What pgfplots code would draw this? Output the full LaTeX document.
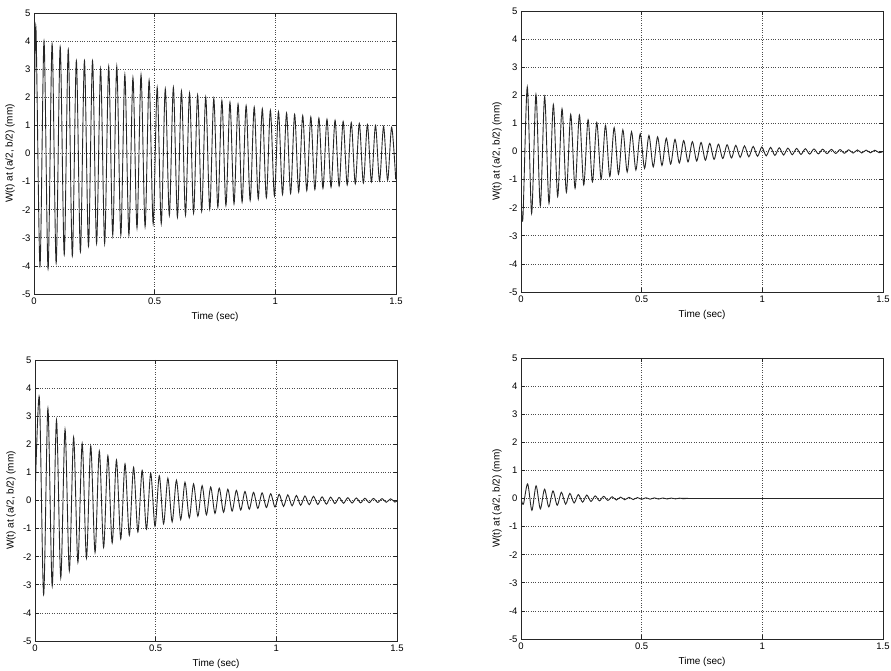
\documentclass[border=0pt]{standalone}
\usepackage{fontspec}
\setmainfont{Liberation Sans}
\usepackage{pgfplots}
\pgfplotsset{compat=1.18}
\pgfplotsset{
  matstyle/.style={
    scale only axis, width=362pt, height=281pt,
    xmin=0, xmax=1.5, ymin=-5, ymax=5,
    xtick={0,0.5,1,1.5}, xticklabels={0,0.5,1,1.5},
    ytick={-5,-4,-3,-2,-1,0,1,2,3,4,5},
    yticklabels={-5,-4,-3,-2,-1,0,1,2,3,4,5},
    grid=major,
    major grid style={dotted, black!70, line width=0.6pt},
    tick align=inside, major tick length=4pt,
    axis line style={line width=0.6pt, black!85},
    tick style={line width=0.6pt, black!85},
    ticklabel style={font=\fontsize{9.5}{10}\selectfont},
    label style={font=\fontsize{10}{12}\selectfont},
    xlabel={Time (sec)},
    ylabel={W(t) at (a/2, b/2) (mm)},
    xlabel style={at={([yshift=-23pt]axis description cs:0.5,0)}, anchor=center},
    ylabel style={at={([xshift=-24pt]axis description cs:0,0.5)}, anchor=center},
  },
  sig/.style={black!85, line width=0.9pt, smooth, tension=0.5},
}
\begin{document}
\begin{tikzpicture}[x=1pt,y=1pt]
\path[use as bounding box] (0,0) rectangle (891,671);

% top-left
\begin{axis}[matstyle, at={(34pt,377pt)}, anchor=south west]
\addplot[sig] coordinates {
(0,0) (0.0080,4.5) (0.0248,-4.0) (0.0415,4.0) (0.0583,-4.1) (0.0750,3.9) (0.0918,-3.9)
(0.1085,3.8) (0.1253,-3.6) (0.1420,3.7) (0.1588,-3.65) (0.1755,3.3) (0.1923,-3.5)
(0.2090,3.3) (0.2258,-3.3) (0.2425,3.3) (0.2593,-3.2) (0.2760,3.0) (0.2928,-3.2)
(0.3095,3.1) (0.3263,-2.9) (0.3430,3.1) (0.3598,-2.9) (0.3765,2.8) (0.3933,-2.9)
(0.4100,2.7) (0.4268,-2.65) (0.4435,2.8) (0.4603,-2.6) (0.4770,2.6) (0.4938,-2.5)
(0.5105,2.35) (0.5273,-2.5) (0.5440,2.3) (0.5608,-2.2) (0.5775,2.35) (0.5943,-2.26)
(0.6110,2.22) (0.6278,-2.19) (0.6445,2.15) (0.6613,-2.12) (0.6780,2.08) (0.6948,-2.05)
(0.7115,2.01) (0.7283,-1.98) (0.7450,1.95) (0.7618,-1.91) (0.7785,1.88) (0.7953,-1.85)
(0.8120,1.82) (0.8288,-1.79) (0.8455,1.76) (0.8623,-1.73) (0.8790,1.70) (0.8958,-1.67)
(0.9125,1.65) (0.9293,-1.62) (0.9460,1.59) (0.9628,-1.57) (0.9795,1.54) (0.9963,-1.51)
(1.0130,1.49) (1.0298,-1.46) (1.0465,1.44) (1.0633,-1.42) (1.0800,1.39) (1.0968,-1.37)
(1.1135,1.35) (1.1303,-1.32) (1.1470,1.30) (1.1638,-1.28) (1.1805,1.26) (1.1973,-1.24)
(1.2140,1.22) (1.2308,-1.20) (1.2475,1.18) (1.2643,-1.16) (1.2810,1.14) (1.2978,-1.12)
(1.3145,1.10) (1.3313,-1.08) (1.3480,1.07) (1.3648,-1.05) (1.3815,1.03) (1.3983,-1.01)
(1.4150,1.00) (1.4318,-0.98) (1.4485,0.96) (1.4653,-0.95) (1.4820,0.93) (1.4988,-0.92)
};
\end{axis}

% top-right
\begin{axis}[matstyle, at={(521pt,379pt)}, anchor=south west]
\addplot[sig] coordinates {
(0,-1.6) (0.008,-2.35) (0.026,2.30) (0.044,-2.20) (0.062,2.03) (0.080,-1.93) (0.098,1.95)
(0.116,-1.85) (0.134,1.67) (0.152,-1.60) (0.170,1.52) (0.188,-1.45) (0.206,1.32)
(0.224,-1.31) (0.242,1.30) (0.260,-1.19) (0.278,1.13) (0.296,-1.08) (0.314,1.03)
(0.332,-0.98) (0.350,0.93) (0.368,-0.89) (0.386,0.85) (0.404,-0.81) (0.422,0.77)
(0.440,-0.73) (0.458,0.70) (0.476,-0.66) (0.494,0.63) (0.512,-0.60) (0.530,0.57)
(0.548,-0.55) (0.566,0.52) (0.584,-0.50) (0.602,0.47) (0.620,-0.45) (0.638,0.43)
(0.656,-0.41) (0.674,0.39) (0.692,-0.37) (0.710,0.35) (0.728,-0.34) (0.746,0.32)
(0.764,-0.31) (0.782,0.29) (0.800,-0.28) (0.818,0.26) (0.836,-0.25) (0.854,0.24)
(0.872,-0.23) (0.890,0.22) (0.908,-0.21) (0.926,0.20) (0.944,-0.19) (0.962,0.18)
(0.980,-0.17) (0.998,0.16) (1.016,-0.155) (1.034,0.147) (1.052,-0.14) (1.070,0.134)
(1.088,-0.127) (1.106,0.121) (1.124,-0.115) (1.142,0.11) (1.160,-0.105) (1.178,0.10)
(1.196,-0.095) (1.214,0.09) (1.232,-0.086) (1.250,0.082) (1.268,-0.078) (1.286,0.075)
(1.304,-0.071) (1.322,0.068) (1.340,-0.064) (1.358,0.061) (1.376,-0.058) (1.394,0.056)
(1.412,-0.053) (1.430,0.05) (1.448,-0.048) (1.466,0.046) (1.484,-0.044) (1.5,0.0)
};
\end{axis}

% bottom-left
\begin{axis}[matstyle, at={(35pt,30pt)}, anchor=south west]
\addplot[sig] coordinates {
(0,0) (0.0180,3.67) (0.0358,-3.35) (0.0535,3.28) (0.0713,-3.05) (0.0890,2.86) (0.1068,-2.75)
(0.1245,2.53) (0.1423,-2.5) (0.1600,2.25) (0.1778,-2.2) (0.1955,2.03) (0.2133,-2.05)
(0.2310,1.94) (0.2488,-1.85) (0.2665,1.76) (0.2843,-1.67) (0.3020,1.59) (0.3198,-1.51)
(0.3375,1.44) (0.3553,-1.37) (0.3730,1.30) (0.3908,-1.24) (0.4085,1.18) (0.4263,-1.12)
(0.4440,1.07) (0.4618,-1.02) (0.4795,0.97) (0.4973,-0.92) (0.5150,0.88) (0.5328,-0.83)
(0.5505,0.79) (0.5683,-0.76) (0.5860,0.72) (0.6038,-0.68) (0.6215,0.65) (0.6393,-0.62)
(0.6570,0.59) (0.6748,-0.56) (0.6925,0.53) (0.7103,-0.51) (0.7280,0.48) (0.7458,-0.46)
(0.7635,0.44) (0.7813,-0.42) (0.7990,0.40) (0.8168,-0.38) (0.8345,0.36) (0.8523,-0.34)
(0.8700,0.32) (0.8878,-0.31) (0.9055,0.29) (0.9233,-0.28) (0.9410,0.27) (0.9588,-0.25)
(0.9765,0.24) (0.9943,-0.23) (1.0120,0.22) (1.0298,-0.21) (1.0475,0.20) (1.0653,-0.19)
(1.0830,0.18) (1.1008,-0.17) (1.1185,0.16) (1.1363,-0.15) (1.1540,0.15) (1.1718,-0.14)
(1.1895,0.13) (1.2073,-0.13) (1.2250,0.12) (1.2428,-0.11) (1.2605,0.11) (1.2783,-0.10)
(1.2960,0.10) (1.3138,-0.09) (1.3315,0.09) (1.3493,-0.085) (1.3670,0.08) (1.3848,-0.077)
(1.4025,0.073) (1.4203,-0.07) (1.4380,0.066) (1.4558,-0.063) (1.4735,0.06) (1.4913,-0.057)
(1.5,0.0)
};
\end{axis}

% bottom-right
\begin{axis}[matstyle, at={(521pt,32pt)}, anchor=south west]
\addplot[sig] coordinates {
(0,0) (0.0100,-0.20) (0.0275,0.52) (0.0450,-0.42) (0.0625,0.45) (0.0800,-0.37) (0.0975,0.33)
(0.1150,-0.30) (0.1325,0.27) (0.1500,-0.24) (0.1675,0.22) (0.1850,-0.20) (0.2025,0.18)
(0.2200,-0.16) (0.2375,0.14) (0.2550,-0.13) (0.2725,0.12) (0.2900,-0.105) (0.3075,0.094)
(0.3250,-0.085) (0.3425,0.077) (0.3600,-0.069) (0.3775,0.062) (0.3950,-0.056) (0.4125,0.050)
(0.4300,-0.045) (0.4475,0.041) (0.4650,-0.037) (0.4825,0.033) (0.5000,-0.030) (0.5175,0.027)
(0.5350,-0.024) (0.5525,0.022) (0.5700,-0.020) (0.5875,0.018) (0.6050,-0.016) (0.6225,0.015)
(0.6400,-0.013) (0.6575,0.012) (0.6750,-0.011) (0.6925,0.010) (0.72,0) (1.5,0)
};
\end{axis}
\end{tikzpicture}
\end{document}
